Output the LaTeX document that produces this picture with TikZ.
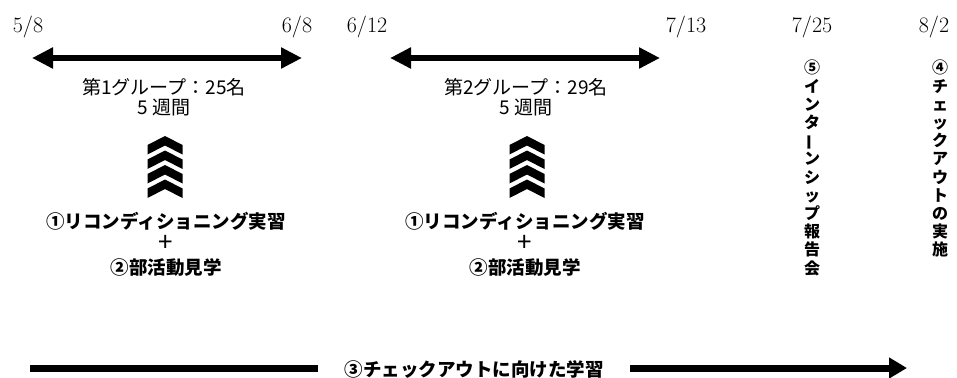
\documentclass[tikz,border=0pt]{standalone}
\usepackage{fontspec}
\usepackage{graphicx}
\newfontfamily\jp{Noto Sans CJK JP}
\usetikzlibrary{arrows.meta}
\newcommand{\bigplus}{{\mdseries\fontsize{26}{23}\selectfont +}}
\begin{document}
\begin{tikzpicture}[x=1pt,y=-1pt,
  datelbl/.style={font=\fontsize{22}{22}\selectfont, inner sep=0, anchor=base},
  grplbl/.style={font=\jp\fontsize{19}{20}\selectfont, align=center, inner sep=0},
  actlbl/.style={font=\jp\bfseries\fontsize{18.5}{23}\selectfont, align=center, inner sep=0},
  vtext/.style={font=\jp\bfseries\fontsize{16}{18.2}\selectfont, align=center, inner sep=0, anchor=north},
  spanarrow/.style={line width=6pt, {Triangle[length=21pt,width=20pt]}-{Triangle[length=21pt,width=20pt]}},
  barline/.style={line width=7pt},
  chevs/.pic={
    \foreach \t in {0,14.5,29,43.5}
      \fill[black] (-17.5,\t+9) -- (0,\t) -- (17.5,\t+9) -- (17.5,\t+18.5) -- (0,\t+9.5) -- (-17.5,\t+18.5) -- cycle;
  }]
\useasboundingbox (0,0) rectangle (957,377);

% dates
\node[datelbl] (d58)  at (28,33)  {5/8};
\node[datelbl] (d68)  at (297,33) {6/8};
\node[datelbl] (d612) at (367,33) {6/12};
\node[datelbl] (d713) at (686,33) {7/13};
\node[datelbl] (d725) at (812,33) {7/25};
\node[datelbl] (d82)  at (934,33) {8/2};

% period arrows
\coordinate (a1l) at (32,58);
\coordinate (a1r) at (302,58);
\coordinate (a2l) at (390,58);
\coordinate (a2r) at (660,58);
\draw[spanarrow] (a1l) -- (a1r);
\draw[spanarrow] (a2l) -- (a2r);

% group labels
\node[grplbl] (g1) at (164,97) {第1グループ：25名\\5 週間};
\node[grplbl] (g2) at (526,97) {第2グループ：29名\\5 週間};

% chevrons
\pic (c1) at (165,136) {chevs};
\pic (c2) at (527,136) {chevs};

% activities
\node[actlbl] (act1) at (166,244) {①リコンディショニング実習\\\bigplus\\②部活動見学};
\node[actlbl] (act2) at (525,244) {①リコンディショニング実習\\\bigplus\\②部活動見学};

% vertical texts
\node[vtext] (rep) at (812,60) {⑤\\イ\\ン\\タ\\\rotatebox[origin=c]{90}{ー}\\ン\\シ\\ッ\\プ\\報\\告\\会};
\node[vtext] (chk) at (940,60) {④\\チ\\ェ\\ッ\\ク\\ア\\ウ\\ト\\の\\実\\施};

% bottom arrow
\node[actlbl] (learn) at (474,369) {③チェックアウトに向けた学習};
\coordinate (b0) at (30,368);
\coordinate (b1) at (318,368);
\coordinate (b2) at (630,368);
\coordinate (b3) at (907,368);
\draw[barline] (b0) -- (b1);
\draw[barline, -{Triangle[length=18pt,width=20pt]}] (b2) -- (b3);
\end{tikzpicture}
\end{document}
